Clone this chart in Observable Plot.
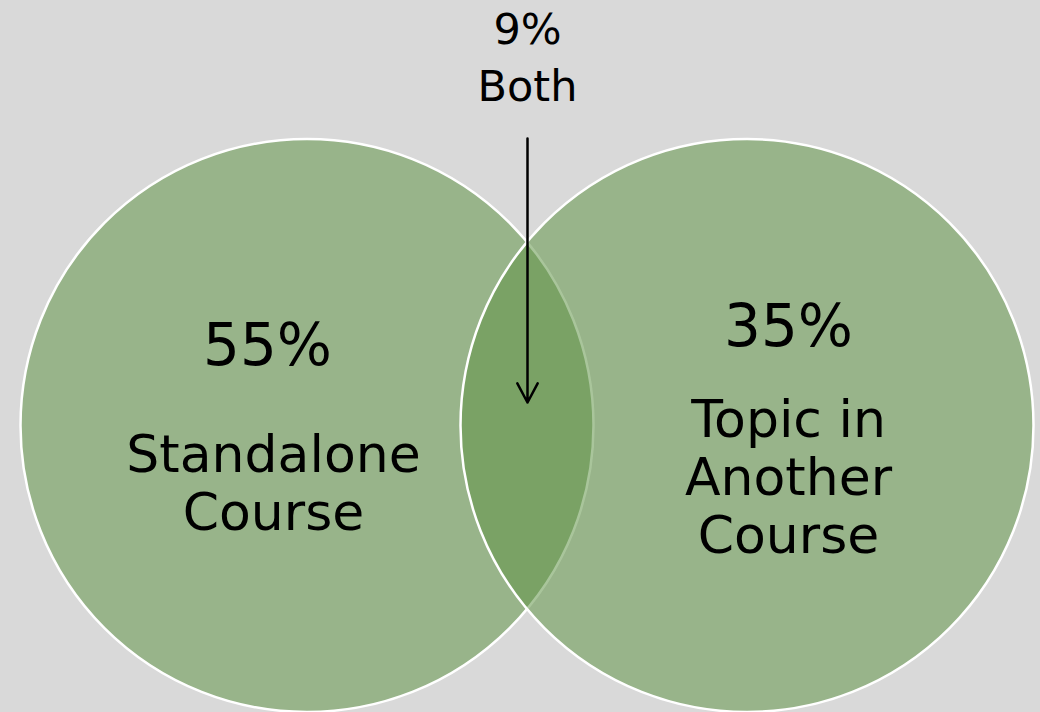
<!DOCTYPE html>
<html>
<head>
<meta charset="utf-8">
<script src="https://cdn.jsdelivr.net/npm/d3@7"></script>
<script src="https://cdn.jsdelivr.net/npm/@observablehq/plot@0.6"></script>
<style>
  html, body { margin: 0; padding: 0; background: #d9d9d9; }
  #chart svg { display: block; }
</style>
</head>
<body>
<div id="chart"></div>
<script>
// Venn diagram data
const setNames = ["Standalone\nCourse", "Topic in\nAnother\nCourse"];
const setShares = [55, 35];          // percent
const bothShare = 9;                 // percent
const bothLabel = "Both";

// Diagram layout (in diagram units, mapped 1:1 by the x/y scales)
const circleX = [306.5, 746.5];
const circleY = [425, 425];
const circleR = 286.5;
const shareX = [267, 788];
const shareY = [346, 327];
const nameX = [273, 788];
const nameY = [482, 476];
const bothX = 527;
const bothY = 54;
const arrowY = [138, 402];

const circles = setNames.map((n, i) => ({name: n, x: circleX[i], y: circleY[i]}));
const shares = setShares.map((v, i) => ({label: v + "%", x: shareX[i], y: shareY[i]}));
const names = setNames.map((n, i) => ({label: n, x: nameX[i], y: nameY[i]}));
const both = [{label: bothShare + "%\n" + bothLabel, x: bothX, y: bothY}];
const arrow = [{x1: bothX, y1: arrowY[0], x2: bothX, y2: arrowY[1]}];

const font = "'DejaVu Sans', sans-serif";

const chart = Plot.plot({
  width: 1040,
  height: 712,
  margin: 0,
  x: {domain: [0, 1040], axis: null},
  y: {domain: [712, 0], range: [712, 0], axis: null},
  style: {background: "#d9d9d9", fontFamily: font, overflow: "visible"},
  marks: [
    Plot.dot(circles, {
      x: "x", y: "y", r: circleR,
      fill: "rgb(97,148,71)", fillOpacity: 0.54,
      stroke: "white", strokeWidth: 2.5
    }),
    Plot.arrow(arrow, {
      x1: "x1", y1: "y1", x2: "x2", y2: "y2",
      stroke: "black", strokeWidth: 2.5, headAngle: 56, headLength: 13
    }),
    Plot.text(shares, {
      x: "x", y: "y", text: "label",
      fontSize: 58, fill: "black", lineAnchor: "middle", fontFamily: font
    }),
    Plot.text(names, {
      x: "x", y: "y", text: "label",
      fontSize: 52, lineHeight: 1.11, fill: "black", lineAnchor: "middle", fontFamily: font
    }),
    Plot.text(both, {
      x: "x", y: "y", text: "label",
      fontSize: 43, lineHeight: 1.33, fill: "black", lineAnchor: "middle", fontFamily: font
    })
  ]
});
document.getElementById("chart").append(chart);
</script>
</body>
</html>
